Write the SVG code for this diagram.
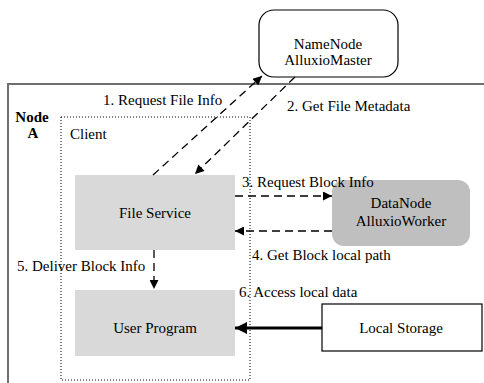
<svg xmlns="http://www.w3.org/2000/svg" width="484" height="383" viewBox="0 0 484 383">
<defs>
<style>
text{font-family:"Liberation Serif","DejaVu Serif","Times New Roman",serif;font-size:15px;fill:#000}
.c{text-anchor:middle}
.b{font-weight:bold}
.dash{fill:none;stroke:#000;stroke-width:1.3;stroke-dasharray:8,5}
.gray{fill:#d9d9d9;stroke:none}
</style>
<marker id="ah" viewBox="0 0 10 10" refX="10" refY="5" markerWidth="10" markerHeight="9" markerUnits="userSpaceOnUse" orient="auto">
<path d="M0,0 L10,5 L0,10 Z" fill="#000"/>
</marker>
<marker id="ahb" viewBox="0 0 10 10" refX="10" refY="5" markerWidth="13" markerHeight="12" markerUnits="userSpaceOnUse" orient="auto">
<path d="M0,0 L10,5 L0,10 Z" fill="#000"/>
</marker>
</defs>
<g id="nodeA">
<rect x="8" y="84" width="490" height="310" fill="#fff" stroke="#6f6f6f" stroke-width="2"/>
<text class="c b" x="32" y="122">Node</text>
<text class="c b" x="33" y="138">A</text>
</g>
<g id="client">
<rect x="61" y="117" width="189" height="263" fill="none" stroke="#000" stroke-width="1" stroke-dasharray="1,2"/>
<text x="70" y="139">Client</text>
</g>
<g id="namenode">
<rect x="259" y="10" width="139" height="67" rx="15" fill="#fff" stroke="#000" stroke-width="1.2"/>
<text class="c" x="328" y="49">NameNode</text>
<text class="c" x="328" y="65">AlluxioMaster</text>
</g>
<g id="fileservice">
<rect class="gray" x="75" y="175" width="160" height="75"/>
<text class="c" x="155" y="218">File Service</text>
</g>
<g id="userprogram">
<rect class="gray" x="75" y="290" width="160" height="66"/>
<text class="c" x="155" y="333">User Program</text>
</g>
<g id="datanode">
<rect x="332" y="180" width="138" height="66" rx="12" fill="#bfbfbf"/>
<text class="c" x="401" y="208">DataNode</text>
<text class="c" x="401" y="226">AlluxioWorker</text>
</g>
<g id="localstorage">
<rect x="322" y="304" width="160" height="47" fill="#fff" stroke="#000" stroke-width="1.2"/>
<text class="c" x="401" y="333">Local Storage</text>
</g>
<g id="connectors">
<line class="dash" x1="153" y1="175" x2="262" y2="76" marker-end="url(#ah)"/>
<line class="dash" x1="295" y1="77" x2="195" y2="174" marker-end="url(#ah)"/>
<line class="dash" x1="235" y1="196" x2="332" y2="196" marker-end="url(#ah)"/>
<line class="dash" x1="332" y1="231" x2="235" y2="231" marker-end="url(#ah)"/>
<line class="dash" x1="154" y1="250" x2="154" y2="289" marker-end="url(#ah)"/>
<line x1="322" y1="328" x2="235" y2="328" stroke="#000" stroke-width="3" marker-end="url(#ahb)"/>
<text x="103" y="105">1. Request File Info</text>
<text x="287" y="111">2. Get File Metadata</text>
<text x="242" y="187">3. Request Block Info</text>
<text x="252" y="260">4. Get Block local path</text>
<text x="17" y="271">5. Deliver Block Info</text>
<text x="239" y="297">6. Access local data</text>
</g>
</svg>
